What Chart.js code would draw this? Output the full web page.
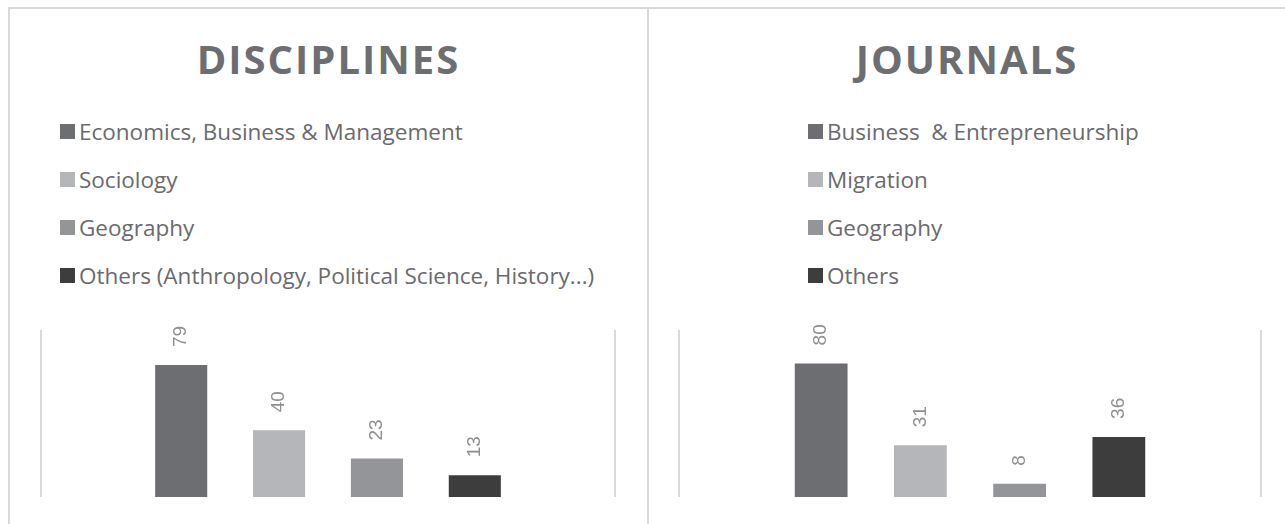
<!DOCTYPE html>
<html>
<head>
<meta charset="utf-8">
<script src="https://cdn.jsdelivr.net/npm/chart.js@4/dist/chart.umd.min.js"></script>
<style>
  html, body { margin: 0; padding: 0; background: #fff; }
  body { width: 1285px; height: 524px; overflow: hidden; position: relative; font-family: "Open Sans", sans-serif; }
  .panel { position: absolute; top: 7px; height: 540px; border: 2px solid #d9d9d9; box-sizing: border-box; }
  .title { position: absolute; left: 0; right: 0; top: 22px; text-align: center; font-weight: bold;
           font-size: 40px; letter-spacing: 2px; color: #6d6e71; line-height: 56px; }
  .legend { position: absolute; top: 98px; }
  .item { height: 48px; display: flex; align-items: center; font-size: 22.5px; color: #6a6a6d; white-space: pre; }
  .item span.box { width: 15px; height: 15px; margin-right: 4px; display: inline-block; }
  .plot { position: absolute; top: 300px; height: 224px; }
</style>
</head>
<body>
<div class="panel" id="p1" style="left:8px; width:641px;">
  <div class="title" id="t1"></div>
  <div class="legend" id="l1" style="left:50px;"></div>
</div>
<div class="panel" id="p2" style="left:647px; width:650px;">
  <div class="title" id="t2" style="right:10px;"></div>
  <div class="legend" id="l2" style="left:159px;"></div>
</div>
<div class="plot" style="left:10px; width:635px;"><canvas id="c1"></canvas></div>
<div class="plot" style="left:649px; width:636px;"><canvas id="c2"></canvas></div>

<script>
// ================= DATA =================
const disciplineTitle = "DISCIPLINES";
const disciplineLabels = ["Economics, Business & Management", "Sociology", "Geography", "Others (Anthropology, Political Science, History...)"];
const disciplineValues = [79, 40, 23, 13];

const journalTitle = "JOURNALS";
const journalLabels = ["Business  & Entrepreneurship", "Migration", "Geography", "Others"];
const journalValues = [80, 31, 8, 36];

const barColors = ["#6d6e71", "#b5b6b9", "#939598", "#3d3d3d"];
const yMin = 0;
const yMax = 100;

// ================= LEGEND (html) =================
function buildLegend(id, labels) {
    const box = document.getElementById(id);
    labels.forEach((txt, i) => {
        const row = document.createElement("div");
        row.className = "item";
        const sq = document.createElement("span");
        sq.className = "box";
        sq.style.background = barColors[i];
        row.appendChild(sq);
        row.appendChild(document.createTextNode(txt));
        box.appendChild(row);
    });
}

// rotated value labels above each bar
const valueLabels = {
    id: "valueLabels",
    afterDatasetsDraw(chart) {
        const ctx = chart.ctx;
        chart.data.datasets.forEach((ds, i) => {
            const meta = chart.getDatasetMeta(i);
            meta.data.forEach((bar, j) => {
                ctx.save();
                ctx.translate(bar.x, bar.y - 18);
                ctx.rotate(-Math.PI / 2);
                ctx.font = "19px 'Liberation Sans', Arial, sans-serif";
                ctx.fillStyle = "#8f8f8f";
                ctx.textAlign = "left";
                ctx.textBaseline = "middle";
                ctx.fillText(String(ds.data[j]), 0, 0);
                ctx.restore();
            });
        });
    }
};

function makeChart(canvasId, labels, values, pad) {
    new Chart(document.getElementById(canvasId), {
        type: "bar",
        data: {
            labels: [""],
            datasets: labels.map((l, i) => ({
                label: l,
                data: [values[i]],
                backgroundColor: barColors[i],
                categoryPercentage: 0.682,
                barPercentage: 0.532
            }))
        },
        options: {
            responsive: true,
            maintainAspectRatio: false,
            animation: false,
            layout: { padding: pad },
            plugins: { legend: { display: false }, title: { display: false }, tooltip: { enabled: false } },
            scales: {
                x: {
                    grid: { display: true, offset: true, color: "#d9d9d9", lineWidth: 2, drawTicks: false },
                    border: { display: false },
                    ticks: { display: false }
                },
                y: {
                    display: false,
                    min: yMin,
                    max: yMax
                }
            }
        },
        plugins: [valueLabels]
    });
}

document.getElementById("t1").textContent = disciplineTitle;
document.getElementById("t2").textContent = journalTitle;
buildLegend("l1", disciplineLabels);
buildLegend("l2", journalLabels);

makeChart("c1", disciplineLabels, disciplineValues, { left: 31, right: 30, top: 30, bottom: 27 });
makeChart("c2", journalLabels, journalValues, { left: 30, right: 24, top: 30, bottom: 27 });
</script>
</body>
</html>
